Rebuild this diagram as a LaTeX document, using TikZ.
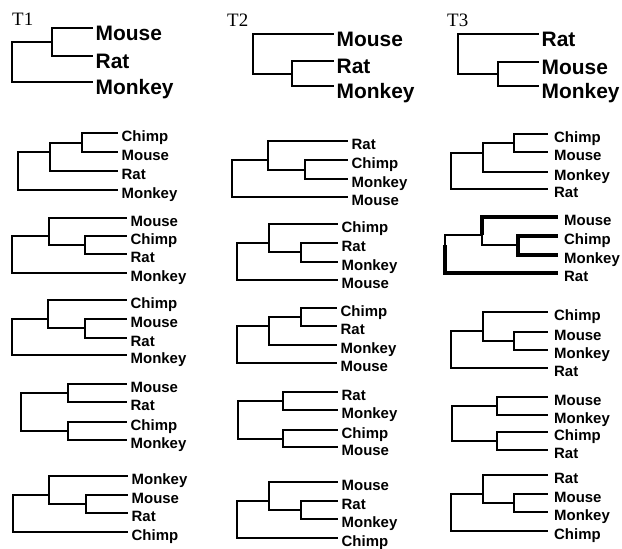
\documentclass[tikz,border=0pt]{standalone}
\usepackage{fontspec}
\setmainfont{Liberation Serif}
\setsansfont{Liberation Sans}
\usepackage{tikz}
\usetikzlibrary{positioning}
\tikzset{
  branch/.style={line width=1.8bp},
  bigbranch/.style={line width=2bp},
  hlbranch/.style={line width=3.6bp},
  leaf/.style={anchor=base west, inner sep=0pt, xshift=3.5bp, yshift=-8.5bp,
    font=\sffamily\bfseries\fontsize{15}{18}\selectfont},
  wideleaf/.style={anchor=base west, inner sep=0pt, xshift=6bp, yshift=-8.5bp,
    font=\sffamily\bfseries\fontsize{15}{18}\selectfont},
  bigleaf/.style={anchor=base west, inner sep=0pt, xshift=2.5bp, yshift=-12.5bp,
    font=\sffamily\bfseries\fontsize{21}{25}\selectfont},
  treetitle/.style={anchor=base west, inner sep=0pt, font=\rmfamily\fontsize{19}{22}\selectfont}
}
\begin{document}
\begin{tikzpicture}[x=1bp, y=-1bp]
  \useasboundingbox (0,0) rectangle (622,549);

  % titles
  \node[treetitle] (title1) at (12,26) {T1};
  \node[treetitle] (title2) at (227,27) {T2};
  \node[treetitle] (title3) at (447,27) {T3};

  % T1
  \coordinate (t1-1) at (93,28); \coordinate (t1-2) at (93,56); \coordinate (t1-3) at (93,82);
  \coordinate (t1-i) at (52,42); \coordinate (t1-r) at (12,55);
  \node[bigleaf] (t1-l1) at (t1-1) {Mouse};
  \node[bigleaf] (t1-l2) at (t1-2) {Rat};
  \node[bigleaf] (t1-l3) at (t1-3) {Monkey};
  \draw[bigbranch] (t1-i) |- (t1-1) (t1-i) |- (t1-2) (t1-r) |- (t1-i) (t1-r) |- (t1-3);

  % T2
  \coordinate (t2-1) at (334,34); \coordinate (t2-2) at (334,61); \coordinate (t2-3) at (334,86);
  \coordinate (t2-i) at (292,74); \coordinate (t2-r) at (253,60);
  \node[bigleaf] (t2-l1) at (t2-1) {Mouse};
  \node[bigleaf] (t2-l2) at (t2-2) {Rat};
  \node[bigleaf] (t2-l3) at (t2-3) {Monkey};
  \draw[bigbranch] (t2-r) |- (t2-1) (t2-i) |- (t2-2) (t2-i) |- (t2-3) (t2-r) |- (t2-i);

  % T3
  \coordinate (t3-1) at (539,34); \coordinate (t3-2) at (539,62); \coordinate (t3-3) at (539,86);
  \coordinate (t3-i) at (498,74); \coordinate (t3-r) at (458,61);
  \node[bigleaf] (t3-l1) at (t3-1) {Rat};
  \node[bigleaf] (t3-l2) at (t3-2) {Mouse};
  \node[bigleaf] (t3-l3) at (t3-3) {Monkey};
  \draw[bigbranch] (t3-r) |- (t3-1) (t3-i) |- (t3-2) (t3-i) |- (t3-3) (t3-r) |- (t3-i);

  % column 1
  \coordinate (a1-1) at (118,133); \coordinate (a1-2) at (118,152); \coordinate (a1-3) at (118,171); \coordinate (a1-4) at (118,190);
  \coordinate (a1-x) at (82,143); \coordinate (a1-y) at (50,152); \coordinate (a1-r) at (18,161);
  \node[leaf] (a1-l1) at (a1-1) {Chimp};
  \node[leaf] (a1-l2) at (a1-2) {Mouse};
  \node[leaf] (a1-l3) at (a1-3) {Rat};
  \node[leaf] (a1-l4) at (a1-4) {Monkey};
  \draw[branch] (a1-x) |- (a1-1) (a1-x) |- (a1-2) (a1-y) |- (a1-x) (a1-y) |- (a1-3) (a1-r) |- (a1-y) (a1-r) |- (a1-4);

  \coordinate (a2-1) at (127,218); \coordinate (a2-2) at (127,236); \coordinate (a2-3) at (127,254); \coordinate (a2-4) at (127,273);
  \coordinate (a2-x) at (85,245); \coordinate (a2-y) at (49,236); \coordinate (a2-r) at (12,245);
  \node[leaf] (a2-l1) at (a2-1) {Mouse};
  \node[leaf] (a2-l2) at (a2-2) {Chimp};
  \node[leaf] (a2-l3) at (a2-3) {Rat};
  \node[leaf] (a2-l4) at (a2-4) {Monkey};
  \draw[branch] (a2-x) |- (a2-2) (a2-x) |- (a2-3) (a2-y) |- (a2-1) (a2-y) |- (a2-x) (a2-r) |- (a2-y) (a2-r) |- (a2-4);

  \coordinate (a3-1) at (127,300); \coordinate (a3-2) at (127,319); \coordinate (a3-3) at (127,338); \coordinate (a3-4) at (127,355);
  \coordinate (a3-x) at (85,328); \coordinate (a3-y) at (48,319); \coordinate (a3-r) at (12,328);
  \node[leaf] (a3-l1) at (a3-1) {Chimp};
  \node[leaf] (a3-l2) at (a3-2) {Mouse};
  \node[leaf] (a3-l3) at (a3-3) {Rat};
  \node[leaf] (a3-l4) at (a3-4) {Monkey};
  \draw[branch] (a3-x) |- (a3-2) (a3-x) |- (a3-3) (a3-y) |- (a3-1) (a3-y) |- (a3-x) (a3-r) |- (a3-y) (a3-r) |- (a3-4);

  \coordinate (a4-1) at (127,384); \coordinate (a4-2) at (127,402); \coordinate (a4-3) at (127,422); \coordinate (a4-4) at (127,440);
  \coordinate (a4-x) at (68,393); \coordinate (a4-y) at (68,431); \coordinate (a4-r) at (21,412);
  \node[leaf] (a4-l1) at (a4-1) {Mouse};
  \node[leaf] (a4-l2) at (a4-2) {Rat};
  \node[leaf] (a4-l3) at (a4-3) {Chimp};
  \node[leaf] (a4-l4) at (a4-4) {Monkey};
  \draw[branch] (a4-x) |- (a4-1) (a4-x) |- (a4-2) (a4-y) |- (a4-3) (a4-y) |- (a4-4) (a4-r) |- (a4-x) (a4-r) |- (a4-y);

  \coordinate (a5-1) at (128,476); \coordinate (a5-2) at (128,495); \coordinate (a5-3) at (128,513); \coordinate (a5-4) at (128,532);
  \coordinate (a5-x) at (86,504); \coordinate (a5-y) at (49,495); \coordinate (a5-r) at (13,504);
  \node[leaf] (a5-l1) at (a5-1) {Monkey};
  \node[leaf] (a5-l2) at (a5-2) {Mouse};
  \node[leaf] (a5-l3) at (a5-3) {Rat};
  \node[leaf] (a5-l4) at (a5-4) {Chimp};
  \draw[branch] (a5-x) |- (a5-2) (a5-x) |- (a5-3) (a5-y) |- (a5-1) (a5-y) |- (a5-x) (a5-r) |- (a5-y) (a5-r) |- (a5-4);

  % column 2
  \coordinate (b1-1) at (348,141); \coordinate (b1-2) at (348,160); \coordinate (b1-3) at (348,179); \coordinate (b1-4) at (348,197);
  \coordinate (b1-x) at (305,170); \coordinate (b1-y) at (268,160); \coordinate (b1-r) at (232,169);
  \node[leaf] (b1-l1) at (b1-1) {Rat};
  \node[leaf] (b1-l2) at (b1-2) {Chimp};
  \node[leaf] (b1-l3) at (b1-3) {Monkey};
  \node[leaf] (b1-l4) at (b1-4) {Mouse};
  \draw[branch] (b1-x) |- (b1-2) (b1-x) |- (b1-3) (b1-y) |- (b1-1) (b1-y) |- (b1-x) (b1-r) |- (b1-y) (b1-r) |- (b1-4);

  \coordinate (b2-1) at (338,224); \coordinate (b2-2) at (338,243); \coordinate (b2-3) at (338,262); \coordinate (b2-4) at (338,280);
  \coordinate (b2-x) at (301,252); \coordinate (b2-y) at (269,243); \coordinate (b2-r) at (237,252);
  \node[leaf] (b2-l1) at (b2-1) {Chimp};
  \node[leaf] (b2-l2) at (b2-2) {Rat};
  \node[leaf] (b2-l3) at (b2-3) {Monkey};
  \node[leaf] (b2-l4) at (b2-4) {Mouse};
  \draw[branch] (b2-x) |- (b2-2) (b2-x) |- (b2-3) (b2-y) |- (b2-1) (b2-y) |- (b2-x) (b2-r) |- (b2-y) (b2-r) |- (b2-4);

  \coordinate (b3-1) at (337,308); \coordinate (b3-2) at (337,326); \coordinate (b3-3) at (337,345); \coordinate (b3-4) at (337,363);
  \coordinate (b3-x) at (301,317); \coordinate (b3-y) at (269,326); \coordinate (b3-r) at (237,336);
  \node[leaf] (b3-l1) at (b3-1) {Chimp};
  \node[leaf] (b3-l2) at (b3-2) {Rat};
  \node[leaf] (b3-l3) at (b3-3) {Monkey};
  \node[leaf] (b3-l4) at (b3-4) {Mouse};
  \draw[branch] (b3-x) |- (b3-1) (b3-x) |- (b3-2) (b3-y) |- (b3-x) (b3-y) |- (b3-3) (b3-r) |- (b3-y) (b3-r) |- (b3-4);

  \coordinate (b4-1) at (338,392); \coordinate (b4-2) at (338,410); \coordinate (b4-3) at (338,430); \coordinate (b4-4) at (338,447);
  \coordinate (b4-x) at (283,401); \coordinate (b4-y) at (283,439); \coordinate (b4-r) at (238,420);
  \node[leaf] (b4-l1) at (b4-1) {Rat};
  \node[leaf] (b4-l2) at (b4-2) {Monkey};
  \node[leaf] (b4-l3) at (b4-3) {Chimp};
  \node[leaf] (b4-l4) at (b4-4) {Mouse};
  \draw[branch] (b4-x) |- (b4-1) (b4-x) |- (b4-2) (b4-y) |- (b4-3) (b4-y) |- (b4-4) (b4-r) |- (b4-x) (b4-r) |- (b4-y);

  \coordinate (b5-1) at (338,482); \coordinate (b5-2) at (338,501); \coordinate (b5-3) at (338,519); \coordinate (b5-4) at (338,538);
  \coordinate (b5-x) at (301,510); \coordinate (b5-y) at (269,501); \coordinate (b5-r) at (237,510);
  \node[leaf] (b5-l1) at (b5-1) {Mouse};
  \node[leaf] (b5-l2) at (b5-2) {Rat};
  \node[leaf] (b5-l3) at (b5-3) {Monkey};
  \node[leaf] (b5-l4) at (b5-4) {Chimp};
  \draw[branch] (b5-x) |- (b5-2) (b5-x) |- (b5-3) (b5-y) |- (b5-1) (b5-y) |- (b5-x) (b5-r) |- (b5-y) (b5-r) |- (b5-4);

  % column 3
  \coordinate (c1-1) at (548,134); \coordinate (c1-2) at (548,152); \coordinate (c1-3) at (548,172); \coordinate (c1-4) at (548,189);
  \coordinate (c1-x) at (514,143); \coordinate (c1-y) at (483,153); \coordinate (c1-r) at (451,162);
  \node[wideleaf] (c1-l1) at (c1-1) {Chimp};
  \node[wideleaf] (c1-l2) at (c1-2) {Mouse};
  \node[wideleaf] (c1-l3) at (c1-3) {Monkey};
  \node[wideleaf] (c1-l4) at (c1-4) {Rat};
  \draw[branch] (c1-x) |- (c1-1) (c1-x) |- (c1-2) (c1-y) |- (c1-x) (c1-y) |- (c1-3) (c1-r) |- (c1-y) (c1-r) |- (c1-4);

  \coordinate (c2-1) at (558,217); \coordinate (c2-2) at (558,236); \coordinate (c2-3) at (558,255); \coordinate (c2-4) at (558,273);
  \coordinate (c2-x) at (518,245); \coordinate (c2-y) at (482,235); \coordinate (c2-r) at (445,245);
  \node[wideleaf] (c2-l1) at (c2-1) {Mouse};
  \node[wideleaf] (c2-l2) at (c2-2) {Chimp};
  \node[wideleaf] (c2-l3) at (c2-3) {Monkey};
  \node[wideleaf] (c2-l4) at (c2-4) {Rat};
  \draw[branch] (c2-y) |- (c2-x) (c2-r) |- (c2-y);
  \draw[hlbranch] (c2-x) |- (c2-2) (c2-x) |- (c2-3) (c2-y) |- (c2-1) (c2-r) |- (c2-4);

  \coordinate (c3-1) at (548,312); \coordinate (c3-2) at (548,332); \coordinate (c3-3) at (548,350); \coordinate (c3-4) at (548,368);
  \coordinate (c3-x) at (514,341); \coordinate (c3-y) at (483,331); \coordinate (c3-r) at (451,340);
  \node[wideleaf] (c3-l1) at (c3-1) {Chimp};
  \node[wideleaf] (c3-l2) at (c3-2) {Mouse};
  \node[wideleaf] (c3-l3) at (c3-3) {Monkey};
  \node[wideleaf] (c3-l4) at (c3-4) {Rat};
  \draw[branch] (c3-x) |- (c3-2) (c3-x) |- (c3-3) (c3-y) |- (c3-1) (c3-y) |- (c3-x) (c3-r) |- (c3-y) (c3-r) |- (c3-4);

  \coordinate (c4-1) at (548,397); \coordinate (c4-2) at (548,415); \coordinate (c4-3) at (548,432); \coordinate (c4-4) at (548,450);
  \coordinate (c4-x) at (497,406); \coordinate (c4-y) at (497,441); \coordinate (c4-r) at (452,423);
  \node[wideleaf] (c4-l1) at (c4-1) {Mouse};
  \node[wideleaf] (c4-l2) at (c4-2) {Monkey};
  \node[wideleaf] (c4-l3) at (c4-3) {Chimp};
  \node[wideleaf] (c4-l4) at (c4-4) {Rat};
  \draw[branch] (c4-x) |- (c4-1) (c4-x) |- (c4-2) (c4-y) |- (c4-3) (c4-y) |- (c4-4) (c4-r) |- (c4-x) (c4-r) |- (c4-y);

  \coordinate (c5-1) at (548,475); \coordinate (c5-2) at (548,494); \coordinate (c5-3) at (548,512); \coordinate (c5-4) at (548,531);
  \coordinate (c5-x) at (514,503); \coordinate (c5-y) at (483,494); \coordinate (c5-r) at (451,503);
  \node[wideleaf] (c5-l1) at (c5-1) {Rat};
  \node[wideleaf] (c5-l2) at (c5-2) {Mouse};
  \node[wideleaf] (c5-l3) at (c5-3) {Monkey};
  \node[wideleaf] (c5-l4) at (c5-4) {Chimp};
  \draw[branch] (c5-x) |- (c5-2) (c5-x) |- (c5-3) (c5-y) |- (c5-1) (c5-y) |- (c5-x) (c5-r) |- (c5-y) (c5-r) |- (c5-4);
\end{tikzpicture}
\end{document}
